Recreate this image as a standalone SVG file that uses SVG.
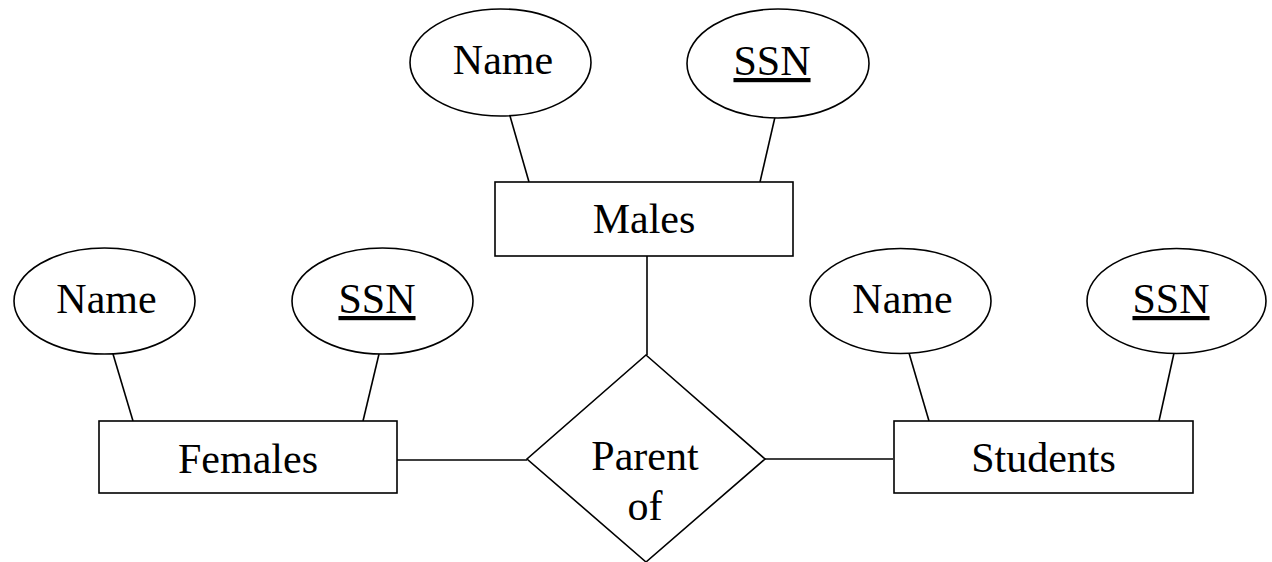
<svg xmlns="http://www.w3.org/2000/svg" width="1272" height="562" viewBox="0 0 1272 562">
<style>
.shape{fill:#fff;stroke:#000;stroke-width:1.6}
.lbl{font-family:'Liberation Serif','Times New Roman','DejaVu Serif',serif;font-size:42px;fill:#000;text-anchor:middle}
.key{text-decoration:underline}
.conn{stroke:#000;stroke-width:1.6;fill:none}
</style>
<rect width="1272" height="562" fill="#fff"/>
<g id="connectors">
<line class="conn" x1="510" y1="116" x2="529" y2="182"/>
<line class="conn" x1="775" y1="117" x2="760" y2="182"/>
<line class="conn" x1="113" y1="354" x2="133" y2="421"/>
<line class="conn" x1="379" y1="354" x2="363" y2="421"/>
<line class="conn" x1="909" y1="353" x2="929" y2="421"/>
<line class="conn" x1="1174" y1="353" x2="1159" y2="421"/>
<line class="conn" x1="647" y1="256" x2="647" y2="355" stroke-width="1"/>
<line class="conn" x1="397" y1="460" x2="527" y2="460" stroke="#777" stroke-width="1.3"/>
<line class="conn" x1="765" y1="459" x2="893" y2="459"/>
</g>
<g id="males-name">
<ellipse class="shape" cx="500.5" cy="62.5" rx="90.5" ry="53.5"/>
<text class="lbl" font-family="Liberation Serif" x="503" y="74">Name</text>
</g>
<g id="males-ssn">
<ellipse class="shape" cx="778" cy="63.5" rx="91" ry="54.5"/>
<text class="lbl key" font-family="Liberation Serif" x="772" y="75">SSN</text>
</g>
<g id="males">
<rect class="shape" x="495" y="182" width="298" height="74"/>
<text class="lbl" font-family="Liberation Serif" x="644" y="233">Males</text>
</g>
<g id="females-name">
<ellipse class="shape" cx="104.5" cy="301" rx="90.5" ry="53"/>
<text class="lbl" font-family="Liberation Serif" x="106.5" y="312.5">Name</text>
</g>
<g id="females-ssn">
<ellipse class="shape" cx="382.5" cy="301" rx="90.5" ry="53"/>
<text class="lbl key" font-family="Liberation Serif" x="377" y="313">SSN</text>
</g>
<g id="females">
<rect class="shape" x="99" y="421" width="298" height="72"/>
<text class="lbl" font-family="Liberation Serif" x="248" y="472.5">Females</text>
</g>
<g id="students-name">
<ellipse class="shape" cx="900.5" cy="301" rx="90.5" ry="52.5"/>
<text class="lbl" font-family="Liberation Serif" x="902.5" y="312.5">Name</text>
</g>
<g id="students-ssn">
<ellipse class="shape" cx="1176.5" cy="301" rx="89.5" ry="52.5"/>
<text class="lbl key" font-family="Liberation Serif" x="1171" y="313">SSN</text>
</g>
<g id="students">
<rect class="shape" x="894" y="421" width="299" height="72"/>
<text class="lbl" font-family="Liberation Serif" x="1043.5" y="472">Students</text>
</g>
<g id="parent-of">
<polygon class="shape" points="646,355 765,459 646,562 527,459"/>
<text class="lbl" font-family="Liberation Serif" x="645" y="470">Parent</text>
<text class="lbl" font-family="Liberation Serif" x="645" y="520">of</text>
</g>
</svg>
